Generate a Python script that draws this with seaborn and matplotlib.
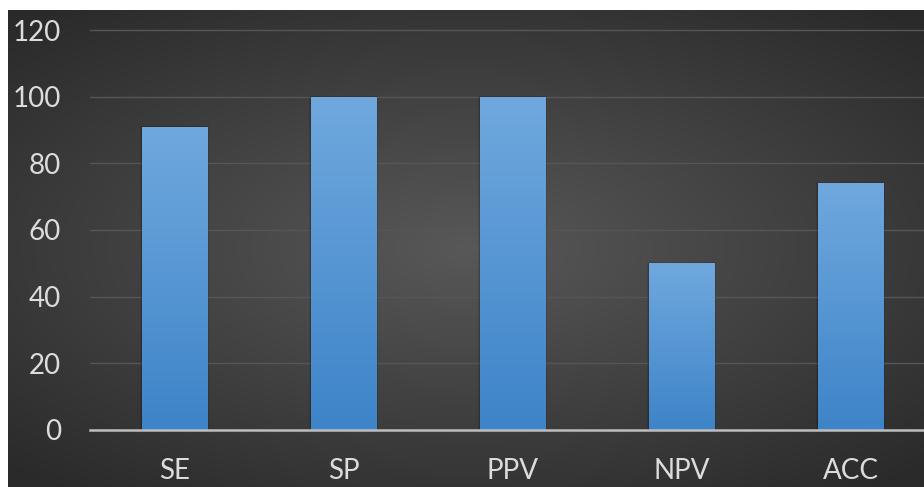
import numpy as np
import matplotlib
matplotlib.use("Agg")
import matplotlib.pyplot as plt
import seaborn as sns
import pandas as pd

# data
metrics = ["SE", "SP", "PPV", "NPV", "ACC"]
values = [91, 100, 100, 50, 74]
y_ticks = [0, 20, 40, 60, 80, 100, 120]

sns.set_theme(style="dark")
plt.rcParams["font.family"] = ["Lato", "DejaVu Sans"]

W, H = 924, 487
fig = plt.figure(figsize=(W / 100, H / 100), dpi=100)
fig.patch.set_facecolor("white")

# dark panel with radial gradient
bg_ax = fig.add_axes([8 / W, 0, 1 - 8 / W, 1 - 10 / H])
bg_ax.set_axis_off()
yy, xx = np.mgrid[-1:1:300j, -1:1:600j]
r = np.sqrt((xx * 0.9) ** 2 + (yy * 1.0) ** 2)
r = np.clip(r / 1.3, 0, 1)
c_in = np.array([0x58, 0x58, 0x58]) / 255
c_out = np.array([0x2a, 0x2a, 0x2a]) / 255
img = c_in[None, None, :] * (1 - r[..., None]) + c_out[None, None, :] * r[..., None]
bg_ax.imshow(img, aspect="auto", extent=[0, 1, 0, 1], interpolation="bilinear")
bg_ax.set_xlim(0, 1)
bg_ax.set_ylim(0, 1)

# main chart
ax = fig.add_axes([90 / W, 57 / H, (W - 90) / W, (H - 10 - 57) / H])
ax.patch.set_alpha(0)
df = pd.DataFrame({"metric": metrics, "value": values})
sns.barplot(data=df, x="metric", y="value", color="#5b9bd5", width=0.39,
            saturation=1, ax=ax, zorder=3, linewidth=0)

ax.set_yticks(y_ticks)
ax.set_yticklabels([str(t) for t in y_ticks])
ax.set_xlabel("")
ax.set_ylabel("")

# gradient fill for the bars
grad = np.linspace(0, 1, 256)[:, None]
top = np.array([0x70, 0xa8, 0xde]) / 255
bot = np.array([0x3d, 0x84, 0xc8]) / 255
bar_img = top[None, None, :] * (1 - grad[..., None]) + bot[None, None, :] * grad[..., None]
for p in ax.patches:
    x0, y0 = p.get_x(), p.get_y()
    w, h = p.get_width(), p.get_height()
    # soft shadow
    for k, a in [(0.012, 0.10), (0.006, 0.12)]:
        ax.add_patch(plt.Rectangle((x0 - k, y0), w + 2 * k, h + k * 25, color="black",
                                   alpha=a, zorder=2, lw=0))
    im = ax.imshow(bar_img, extent=[x0, x0 + w, y0, y0 + h], aspect="auto",
                   zorder=4, interpolation="bilinear")
    im.set_clip_path(p)
ax.set_xlim(-0.5, 4.435)
ax.set_ylim(0, 126)

ax.grid(axis="y", color="#565656", linewidth=1, zorder=1)
ax.grid(axis="x", visible=False)
for s in ["top", "right", "left"]:
    ax.spines[s].set_visible(False)
ax.spines["bottom"].set_color("#bdbdbd")
ax.spines["bottom"].set_linewidth(1.8)
ax.spines["bottom"].set_zorder(5)

ax.tick_params(axis="y", colors="#dcdcdc", labelsize=20, length=0, pad=21)
ax.tick_params(axis="x", colors="#dcdcdc", labelsize=20, length=0, pad=20)

fig.savefig("out.png", dpi=100)
